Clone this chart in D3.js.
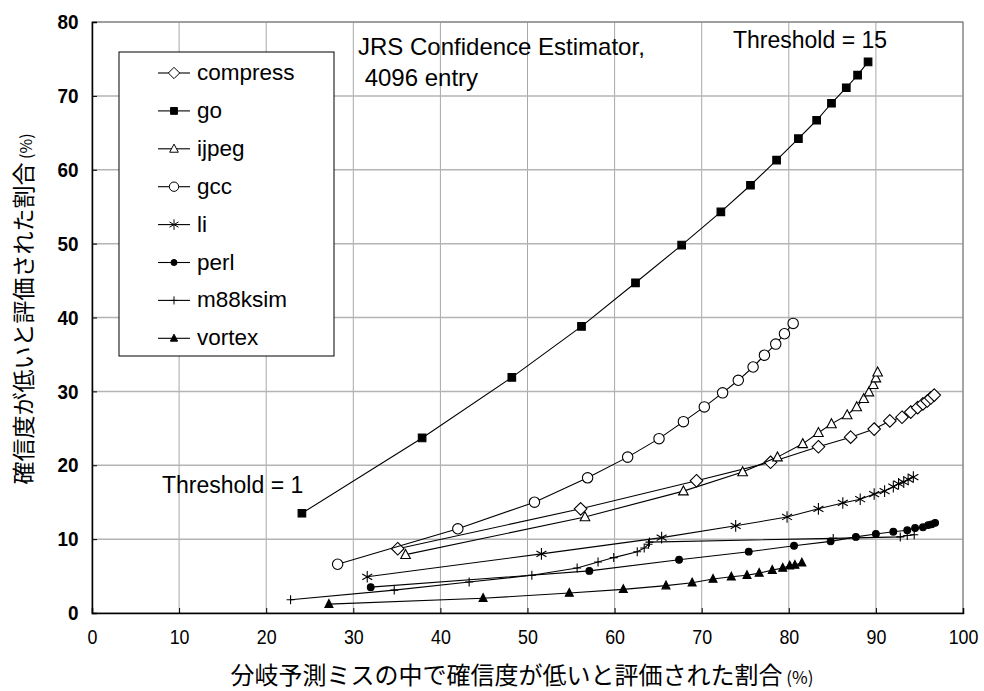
<!DOCTYPE html>
<html>
<head>
<meta charset="utf-8">
<script src="https://cdn.jsdelivr.net/npm/d3@7"></script>
<style>
  body { margin: 0; background: #fff; }
  svg text { font-family: "Liberation Sans", Arial, sans-serif; }
  .jp { font-family: "Noto Sans CJK JP", sans-serif; }
</style>
</head>
<body>
<svg id="chart" width="984" height="691"></svg>
<script>
// values (x = % of mispredictions flagged, y = % flagged low-confidence)
let compress = [[35.1,8.7],[56.1,14.1],[69.4,17.9],[77.9,20.4],[83.4,22.5],[87.1,23.8],[89.8,24.9],[91.6,26.0],[93.0,26.5],[94.0,27.2],[94.8,27.8],[95.4,28.3],[95.9,28.7],[96.3,29.1],[96.7,29.5]];
let go = [[24.1,13.5],[37.9,23.7],[48.2,31.9],[56.2,38.8],[62.4,44.7],[67.7,49.8],[72.2,54.3],[75.6,57.9],[78.6,61.3],[81.1,64.2],[83.2,66.7],[84.9,69.0],[86.6,71.1],[87.9,72.8],[89.1,74.6]];
let ijpeg = [[36.0,7.9],[56.6,13.0],[67.9,16.5],[74.7,19.1],[78.7,21.1],[81.6,22.9],[83.4,24.4],[84.9,25.6],[86.7,26.8],[87.8,27.9],[88.6,29.0],[89.2,29.9],[89.7,30.9],[90.0,31.8],[90.2,32.6]];
let gcc = [[28.2,6.6],[42.0,11.4],[50.8,15.0],[56.9,18.3],[61.5,21.1],[65.1,23.6],[67.9,25.9],[70.3,27.9],[72.4,29.8],[74.2,31.5],[75.9,33.3],[77.2,34.9],[78.5,36.4],[79.5,37.8],[80.5,39.2]];
let li = [[31.6,4.9],[51.6,8.0],[65.4,10.2],[73.9,11.8],[79.8,13.0],[83.4,14.1],[86.2,14.9],[88.2,15.4],[89.8,16.1],[91.0,16.5],[92.0,17.1],[92.6,17.5],[93.2,17.7],[93.7,18.1],[94.3,18.4]];
let perl = [[32.0,3.5],[57.1,5.7],[67.4,7.2],[75.4,8.3],[80.6,9.1],[84.8,9.7],[87.7,10.3],[90.0,10.7],[92.0,11.0],[93.6,11.2],[94.5,11.5],[95.4,11.6],[96.0,11.9],[96.4,12.0],[96.8,12.2]];
let m88ksim = [[22.8,1.8],[34.7,3.1],[43.3,4.2],[50.5,5.1],[55.7,6.1],[58.1,6.9],[59.9,7.5],[62.6,8.3],[63.4,8.8],[63.9,9.3],[64.0,9.6],[85.1,10.1],[92.8,10.3],[93.6,10.5],[94.4,10.6]];
let vortex = [[27.2,1.2],[44.9,2.0],[54.8,2.7],[61.0,3.2],[65.9,3.7],[68.9,4.1],[71.3,4.6],[73.4,4.9],[75.2,5.1],[76.6,5.4],[78.1,5.8],[79.3,6.1],[80.1,6.4],[80.7,6.5],[81.5,6.8]];

let seriesNames = ["compress", "go", "ijpeg", "gcc", "li", "perl", "m88ksim", "vortex"];
let seriesData = [compress, go, ijpeg, gcc, li, perl, m88ksim, vortex];
let seriesMarks = ["diamond", "square", "triangle", "circle", "asterisk", "dot", "plus", "filltri"];

let xTicks = [0, 10, 20, 30, 40, 50, 60, 70, 80, 90, 100];
let yTicks = [0, 10, 20, 30, 40, 50, 60, 70, 80];

let svg = d3.select("#chart");
let plotLeft = 92, plotRight = 963, plotTop = 22, plotBottom = 613;

let x = d3.scaleLinear().domain([0, 100]).range([plotLeft, plotRight]);
let y = d3.scaleLinear().domain([0, 80]).range([plotBottom, plotTop]);

// grid
let grid = svg.append("g");
grid.selectAll(".vg").data(xTicks.slice(1)).enter().append("line")
    .attr("x1", d => x(d)).attr("x2", d => x(d))
    .attr("y1", plotTop).attr("y2", plotBottom)
    .attr("stroke", "#a8a8a8").attr("stroke-width", 1);
grid.selectAll(".hg").data(yTicks.slice(1)).enter().append("line")
    .attr("x1", plotLeft).attr("x2", plotRight)
    .attr("y1", d => y(d)).attr("y2", d => y(d))
    .attr("stroke", "#b4b4b4").attr("stroke-width", 1.5);

// frame
svg.append("rect").attr("x", plotLeft).attr("y", plotTop)
    .attr("width", plotRight - plotLeft).attr("height", plotBottom - plotTop)
    .attr("fill", "none").attr("stroke", "#777").attr("stroke-width", 1);

// axes
let xAxis = svg.append("g").attr("transform", "translate(0," + plotBottom + ")")
    .call(d3.axisBottom(x).tickValues(xTicks).tickSize(-5).tickPadding(16));
xAxis.select(".domain").attr("stroke", "#000").attr("stroke-width", 1.5);
xAxis.selectAll("text").attr("font-size", 21).attr("fill", "#000")
    .attr("transform", "scale(0.85,1)");

let yAxis = svg.append("g").attr("transform", "translate(" + plotLeft + ",0)")
    .call(d3.axisLeft(y).tickValues(yTicks).tickSize(-5).tickPadding(15));
yAxis.select(".domain").attr("stroke", "#000").attr("stroke-width", 1.5);
yAxis.selectAll("text").attr("font-size", 21).attr("font-weight", "bold").attr("fill", "#000")
    .attr("transform", "scale(0.9,1)");

// axis titles
svg.append("text").attr("class", "jp")
    .attr("x", 522).attr("y", 684)
    .attr("text-anchor", "middle").attr("font-size", 24)
    .html('分岐予測ミスの中で確信度が低いと評価された割合<tspan font-size="17"> (%)</tspan>');
svg.append("text").attr("class", "jp")
    .attr("transform", "translate(32,309) rotate(-90)")
    .attr("text-anchor", "middle").attr("font-size", 23)
    .html('確信度が低いと評価された割合<tspan font-size="16"> (%)</tspan>');

// marker shapes
function markPath(kind) {
    switch (kind) {
        case "diamond": return "M0,-6.3L6.3,0L0,6.3L-6.3,0Z";
        case "square": return "M-3.8,-3.8H3.8V3.8H-3.8Z";
        case "triangle": return "M0,-5.2L4.8,3.8H-4.8Z";
        case "filltri": return "M0,-4.6L4,3.2H-4Z";
        case "circle": return d3.symbol(d3.symbolCircle, 85)();
        case "dot": return d3.symbol(d3.symbolCircle, 36)();
        case "asterisk": return "M0,-5.8V5.8M-5,-2.9L5,2.9M-5,2.9L5,-2.9";
        case "plus": return "M-4,0H4M0,-4.5V4.5";
    }
}
function markFill(kind) {
    if (kind === "square" || kind === "filltri" || kind === "dot") return "#000";
    if (kind === "asterisk" || kind === "plus") return "none";
    return "#fff";
}

let line = d3.line().x(d => x(d[0])).y(d => y(d[1]));

seriesData.forEach((data, i) => {
    let g = svg.append("g");
    g.append("path").datum(data).attr("d", line)
        .attr("fill", "none").attr("stroke", "#000").attr("stroke-width", 1.1);
    g.selectAll("path.m").data(data).enter().append("path")
        .attr("class", "m")
        .attr("d", markPath(seriesMarks[i]))
        .attr("transform", d => "translate(" + x(d[0]) + "," + y(d[1]) + ")")
        .attr("fill", markFill(seriesMarks[i]))
        .attr("stroke", "#000").attr("stroke-width", 1.1);
});

// legend
let legend = svg.append("g");
legend.append("rect").attr("x", 119).attr("y", 52).attr("width", 215).attr("height", 304)
    .attr("fill", "#fff").attr("stroke", "#000").attr("stroke-width", 1);
seriesNames.forEach((name, i) => {
    let ly = 73 + i * 37.9;
    legend.append("line").attr("x1", 158).attr("x2", 190).attr("y1", ly).attr("y2", ly)
        .attr("stroke", "#000").attr("stroke-width", 1.1);
    legend.append("path").attr("d", markPath(seriesMarks[i]))
        .attr("transform", "translate(174," + ly + ") scale(0.9)")
        .attr("fill", markFill(seriesMarks[i])).attr("stroke", "#000").attr("stroke-width", 1.1);
    legend.append("text").attr("x", 197).attr("y", ly + 7).attr("font-size", 22.5).text(name);
});

// annotations
svg.append("text").attr("x", 358).attr("y", 55).attr("font-size", 24).text("JRS Confidence Estimator,");
svg.append("text").attr("x", 358).attr("y", 86).attr("font-size", 24).text("\u00a04096 entry");
svg.append("text").attr("x", 733).attr("y", 48).attr("font-size", 23).text("Threshold = 15");
svg.append("text").attr("x", 162).attr("y", 493).attr("font-size", 23).text("Threshold = 1");
</script>
</body>
</html>
